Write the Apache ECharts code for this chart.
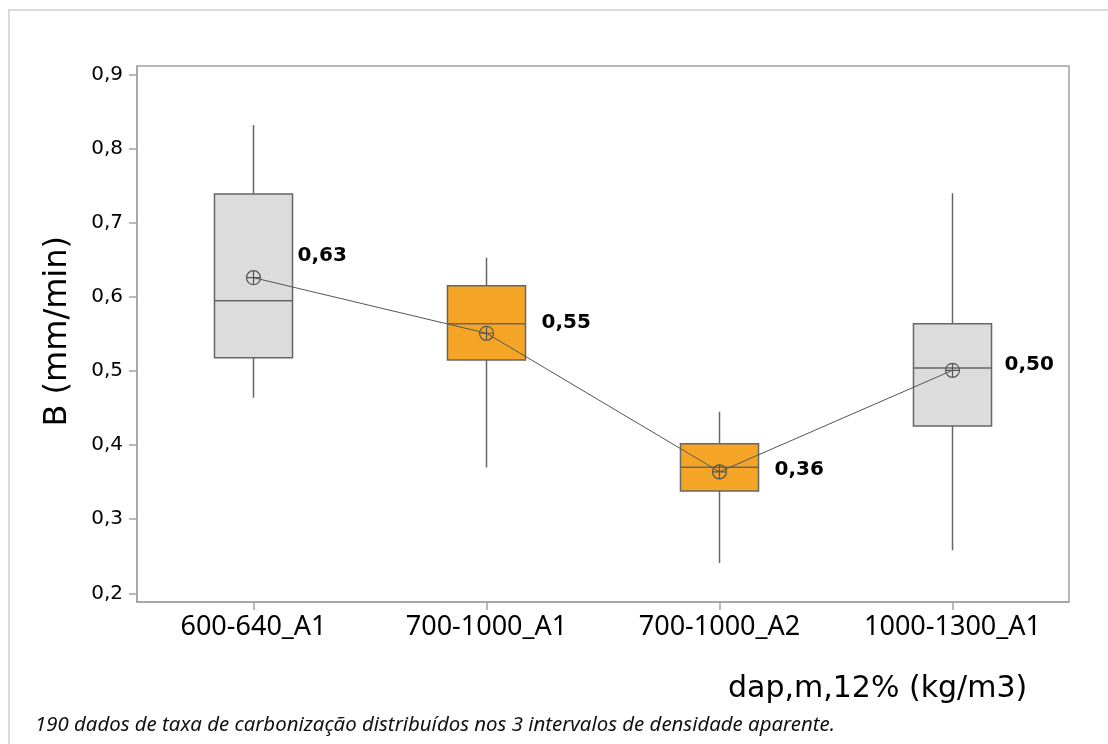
<!DOCTYPE html>
<html>
<head>
<meta charset="utf-8">
<script src="https://cdn.jsdelivr.net/npm/echarts@6/dist/echarts.min.js"></script>
<style>
html,body{margin:0;padding:0;background:#fff;}
#chart{width:1108px;height:744px;}
</style>
</head>
<body>
<div id="chart"></div>
<script>
// ---- data ----
var categories = ['600-640_A1', '700-1000_A1', '700-1000_A2', '1000-1300_A1'];
var whiskerLow = [0.464, 0.370, 0.241, 0.258];
var q1Values   = [0.518, 0.515, 0.338, 0.426];
var medians    = [0.595, 0.564, 0.370, 0.504];
var q3Values   = [0.739, 0.615, 0.402, 0.564];
var whiskerHigh= [0.832, 0.653, 0.445, 0.740];
var means      = [0.626, 0.551, 0.364, 0.501];
var meanLabels = ['0,63', '0,55', '0,36', '0,50'];
var yTicks     = [0.2, 0.3, 0.4, 0.5, 0.6, 0.7, 0.8, 0.9];

// ---- styles ----
var boxFills = ['#dcdcdc', '#f5a526', '#f5a526', '#dcdcdc'];
var labelOffsets = [[44, -22], [55, -10], [55, -2], [52, -6]];

var boxData = categories.map(function (c, i) {
  return [i, whiskerLow[i], q1Values[i], medians[i], q3Values[i], whiskerHigh[i]];
});

var meanData = means.map(function (m, i) {
  return {
    value: m,
    label: {
      show: true,
      position: 'inside',
      align: 'left',
      verticalAlign: 'middle',
      offset: labelOffsets[i],
      formatter: meanLabels[i],
      fontFamily: 'DejaVu Sans',
      fontWeight: 'bold',
      fontSize: 20,
      color: '#000'
    }
  };
});

var chart = echarts.init(document.getElementById('chart'), null, {renderer: 'canvas'});
var axisGray = '#a3a3a3';
var boxStroke = '#666666';

chart.setOption({
  animation: false,
  backgroundColor: '#fff',
  grid: {
    left: 137, top: 66, right: 39, bottom: 142,
    show: true, borderColor: axisGray, borderWidth: 1.5, backgroundColor: 'transparent'
  },
  graphic: [
    {
      type: 'rect', z: -10, silent: true,
      shape: {x: 9, y: 10, width: 1200, height: 800},
      style: {fill: 'none', stroke: '#dadada', lineWidth: 2}
    },
    {
      type: 'text', left: 35, top: 715,
      style: {
        text: '190 dados de taxa de carbonização distribuídos nos 3 intervalos de densidade aparente.',
        font: 'italic 20.4px "Noto Sans"', fill: '#111'
      }
    },
    {
      type: 'text', left: 728, top: 674,
      style: {
        text: 'dap,m,12% (kg/m3)',
        font: '30px "DejaVu Sans"', fill: '#000'
      }
    },
    {
      type: 'text', left: 42, top: 236, rotation: Math.PI / 2,
      style: {
        text: 'B (mm/min)',
        font: '32px "DejaVu Sans"', fill: '#000'
      }
    }
  ],
  xAxis: {
    type: 'category',
    data: categories,
    boundaryGap: true,
    axisLine: {show: true, lineStyle: {color: axisGray, width: 1.5}},
    axisTick: {show: true, alignWithLabel: true, length: 8, lineStyle: {color: axisGray, width: 1.5}},
    axisLabel: {
      margin: 12, fontFamily: 'Noto Sans', fontSize: 27, color: '#000'
    },
    splitLine: {show: false}
  },
  yAxis: {
    type: 'value',
    min: 0.1883, max: 0.9117,
    axisLine: {show: true, lineStyle: {color: axisGray, width: 1.5}},
    axisTick: {show: true, length: 8, customValues: yTicks, lineStyle: {color: axisGray, width: 1.5}},
    axisLabel: {
      customValues: yTicks,
      margin: 14, fontFamily: 'DejaVu Sans', fontSize: 20, color: '#000',
      formatter: function (v) { return v.toFixed(1).replace('.', ','); }
    },
    splitLine: {show: false}
  },
  series: [
    {
      type: 'custom',
      data: boxData,
      encode: {x: 0, y: [1, 2, 3, 4, 5]},
      z: 2,
      renderItem: function (params, api) {
        var i = api.value(0);
        var pLow = api.coord([i, api.value(1)]);
        var pQ1 = api.coord([i, api.value(2)]);
        var pMed = api.coord([i, api.value(3)]);
        var pQ3 = api.coord([i, api.value(4)]);
        var pHigh = api.coord([i, api.value(5)]);
        var x = pMed[0];
        var w = api.size([1, 0])[0] * 0.335;
        var ls = {stroke: boxStroke, lineWidth: 1.5, fill: null};
        return {
          type: 'group',
          children: [
            {type: 'line', shape: {x1: x, y1: pHigh[1], x2: x, y2: pQ3[1]}, style: ls},
            {type: 'line', shape: {x1: x, y1: pQ1[1], x2: x, y2: pLow[1]}, style: ls},
            {type: 'rect', shape: {x: x - w / 2, y: pQ3[1], width: w, height: pQ1[1] - pQ3[1]},
              style: {fill: boxFills[i], stroke: boxStroke, lineWidth: 1.5}},
            {type: 'line', shape: {x1: x - w / 2, y1: pMed[1], x2: x + w / 2, y2: pMed[1]}, style: ls}
          ]
        };
      }
    },
    {
      type: 'line',
      data: meanData,
      z: 5,
      symbol: 'path://M0,-6A6,6 0 1,1 0,6A6,6 0 1,1 0,-6ZM-6,0L6,0M0,-6L0,6',
      symbolSize: 14,
      showAllSymbol: true,
      lineStyle: {color: '#555555', width: 1},
      itemStyle: {color: 'rgba(0,0,0,0)', borderColor: '#555555', borderWidth: 1.2}
    }
  ]
});
</script>
</body>
</html>
